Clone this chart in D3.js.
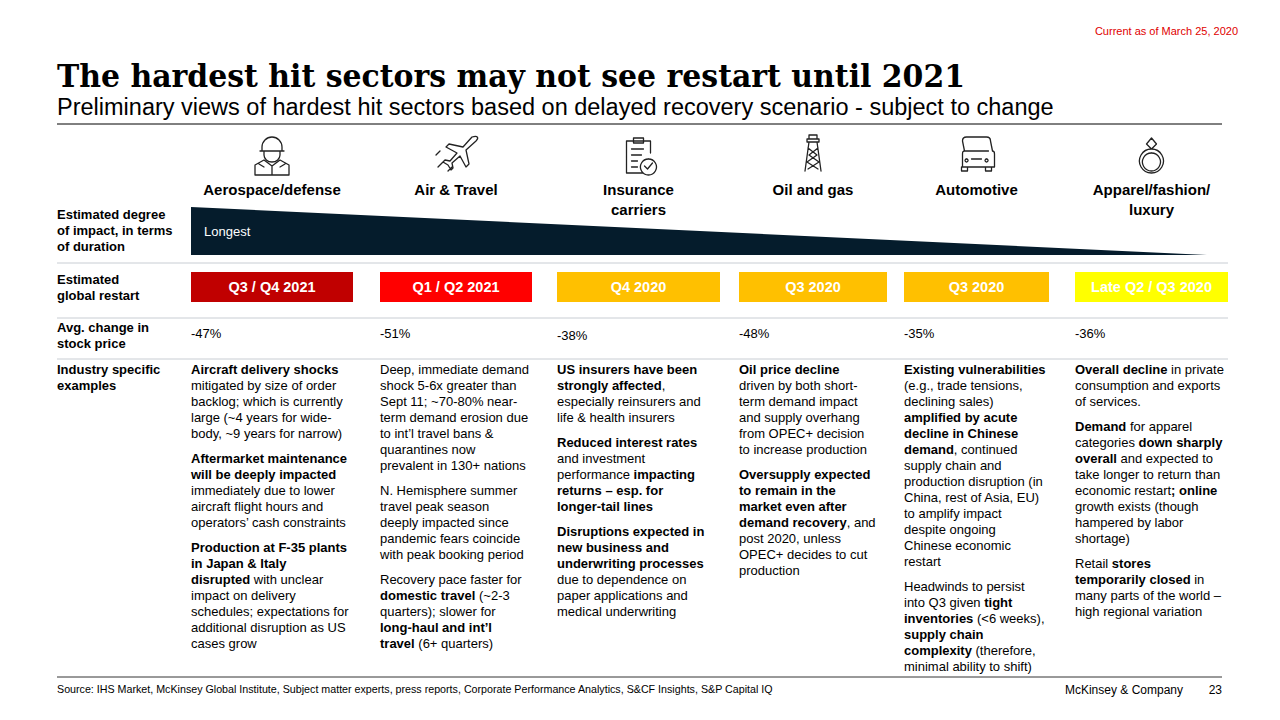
<!DOCTYPE html>
<html><head><meta charset="utf-8">
<script src="https://cdn.jsdelivr.net/npm/d3@7"></script>
<style>body{margin:0;background:#fff}text{font-family:Arial,"Liberation Sans",sans-serif}</style>
</head><body><svg id="c" width="1280" height="720"></svg>
<script>
'use strict'

const sectors = ['Aerospace/defense', 'Air & Travel', 'Insurance\ncarriers', 'Oil and gas', 'Automotive', 'Apparel/fashion/\nluxury']
const restart = ['Q3 / Q4 2021', 'Q1 / Q2 2021', 'Q4 2020', 'Q3 2020', 'Q3 2020', 'Late Q2 / Q3 2020']
const restartColor = ['#c00000', '#ff0000', '#ffc000', '#ffc000', '#ffc000', '#ffff00']
const stockChange = [-47, -51, -38, -48, -35, -36]
const impactRank = [6, 5, 4, 3, 2, 1]
const examples = [
  [['**Aircraft delivery shocks**', 'mitigated by size of order', 'backlog; which is currently', 'large (~4 years for wide-', 'body, ~9 years for narrow)'],
   ['**Aftermarket maintenance**', '**will be deeply impacted**', 'immediately due to lower', 'aircraft flight hours and', 'operators’ cash constraints'],
   ['**Production at F-35 plants**', '**in Japan & Italy**', '**disrupted** with unclear', 'impact on delivery', 'schedules; expectations for', 'additional disruption as US', 'cases grow']],
  [['Deep, immediate demand', 'shock 5-6x greater than', 'Sept 11; ~70-80% near-', 'term demand erosion due', 'to int’l travel bans &', 'quarantines now', 'prevalent in 130+ nations'],
   ['N. Hemisphere summer', 'travel peak season', 'deeply impacted since', 'pandemic fears coincide', 'with peak booking period'],
   ['Recovery pace faster for', '**domestic travel** (~2-3', 'quarters); slower for', '**long-haul and int’l**', '**travel** (6+ quarters)']],
  [['**US insurers have been**', '**strongly affected**,', 'especially reinsurers and', 'life & health insurers'],
   ['**Reduced interest rates**', 'and investment', 'performance **impacting**', '**returns – esp. for**', '**longer-tail lines**'],
   ['**Disruptions expected in**', '**new business and**', '**underwriting processes**', 'due to dependence on', 'paper applications and', 'medical underwriting']],
  [['**Oil price decline**', 'driven by both short-', 'term demand impact', 'and supply overhang', 'from OPEC+ decision', 'to increase production'],
   ['**Oversupply expected**', '**to remain in the**', '**market even after**', '**demand recovery**, and', 'post 2020, unless', 'OPEC+ decides to cut', 'production']],
  [['**Existing vulnerabilities**', '(e.g., trade tensions,', 'declining sales)', '**amplified by acute**', '**decline in Chinese**', '**demand**, continued', 'supply chain and', 'production disruption (in', 'China, rest of Asia, EU)', 'to amplify impact', 'despite ongoing', 'Chinese economic', 'restart'],
   ['Headwinds to persist', 'into Q3 given **tight**', '**inventories** (<6 weeks),', '**supply chain**', '**complexity** (therefore,', 'minimal ability to shift)']],
  [['**Overall decline** in private', 'consumption and exports', 'of services.'],
   ['**Demand** for apparel', 'categories **down sharply**', '**overall** and expected to', 'take longer to return than', 'economic restart**; online**', 'growth exists (though', 'hampered by labor', 'shortage)'],
   ['Retail **stores**', '**temporarily closed** in', 'many parts of the world –', 'high regional variation']]
]
const rowLabels = [
  { y: 219, lines: ['Estimated degree', 'of impact, in terms', 'of duration'] },
  { y: 284, lines: ['Estimated', 'global restart'] },
  { y: 332, lines: ['Avg. change in', 'stock price'] },
  { y: 374, lines: ['Industry specific', 'examples'] }
]

const colX = [191, 380, 557, 739, 904, 1075]
const colW = [162, 152, 163, 148, 145, 153]
const svg = d3.select('#c')
const navy = '#051c2c'

svg.append('text').attr('x', 1238).attr('y', 35).attr('text-anchor', 'end')
  .attr('font-size', 11).attr('fill', '#e00000').text('Current as of March 25, 2020')
svg.append('text').attr('x', 57).attr('y', 87).attr('font-size', 31).attr('font-weight', 'bold')
  .style('font-family', '"DejaVu Serif", Georgia, serif').attr('fill', '#000')
  .attr('textLength', 908).attr('lengthAdjust', 'spacingAndGlyphs')
  .text('The hardest hit sectors may not see restart until 2021')
svg.append('text').attr('x', 57).attr('y', 115).attr('font-size', 23.5).attr('fill', '#000')
  .text('Preliminary views of hardest hit sectors based on delayed recovery scenario - subject to change')
svg.append('line').attr('x1', 57).attr('x2', 1222).attr('y1', 124).attr('y2', 124).attr('stroke', '#000')

// row separators
;[263, 318, 359].forEach(y => {
  svg.append('line').attr('x1', 57).attr('x2', 1228).attr('y1', y).attr('y2', y)
    .attr('stroke', '#c8cdd3').attr('stroke-width', 1)
})
svg.append('line').attr('x1', 57).attr('x2', 1222).attr('y1', 677).attr('y2', 677).attr('stroke', '#000').attr('stroke-width', 0.8)

rowLabels.forEach(r => {
  svg.append('text').attr('font-size', 13).attr('font-weight', 'bold')
    .selectAll('tspan').data(r.lines).join('tspan')
    .attr('x', 57).attr('y', (d, i) => r.y + i * 16).text(d => d)
})

// wedge: thickness scaled by impact rank
const thick = d3.scaleLinear().domain([0, 6]).range([0, 48])
const wedgeX = d3.scaleLinear().domain([6, 0]).range([191, 1207])
const wedgeBottom = 255
svg.append('path')
  .attr('d', d3.line()([[wedgeX(6), wedgeBottom - thick(6)], [wedgeX(0), wedgeBottom - thick(0)], [wedgeX(6), wedgeBottom]]) + 'Z')
  .attr('fill', navy)
svg.append('text').attr('x', 204).attr('y', 236).attr('font-size', 13).attr('fill', '#fff').text('Longest')

// icons
const icon = svg.append('g').attr('fill', 'none').attr('stroke', '#222').attr('stroke-width', 1.3)
  .attr('stroke-linejoin', 'round').attr('stroke-linecap', 'round')
const iconPaths = [
  'M-10,-8 a10,10 0 0 1 20,0 v4 h-20 z M-12,-4 h24 M-8,-4 v4 a8,7 0 0 0 16,0 v-4 M-17,20 v-10 l9,-5 l8,6 l8,-6 l9,5 v10 z M0,11 v9 M-13,9 l5,3 M13,9 l-5,3',
  'M16,-18 l-9,10 l-14,-3 l-3,3 l11,6 l-7,8 l-5,-1 l-2,2 l5,3 l3,5 l2,-2 l-1,-5 l8,-7 l6,11 l3,-3 l-3,-14 l10,-9 c3,-3 2,-6 -4,-4 z M-16,-4 l-4,4 M-12,6 l-6,6 M-4,12 l-4,4',
  'M-12,-14 h24 v12 M4,18 h-16 v-32 M-5,-17 h10 v5 h-10 z M-7,-6 h12 M-7,0 h10 M-7,6 h6 M-7,12 h6 M10,4 a8,8 0 1 1 -0.1,0 M6,11 l3,3 l5,-6',
  'M-4,-18 h8 v4 h-8 z M-6,-14 h12 v3 h-12 z M-4,-11 l-4,29 M4,-11 l4,29 M-5,-5 l9,7 l-10,7 l11,7 M5,-5 l-9,7 l10,7 l-11,7',
  'M-14,-14 q0,-4 4,-4 h20 q4,0 4,4 l2,10 q2,0 2,3 v13 h-32 v-13 q0,-3 2,-3 z M-12,-4 h24 M-15,12 v4 h6 v-4 M15,12 v4 h-6 v-4 M-5,4 h10 M-10,4 a1.5,1.5 0 1 0 0.1,0 M10,4 a1.5,1.5 0 1 0 0.1,0',
  'M0,-8 a12,12 0 1 1 -0.1,0 M0,-4 a9,9 0 1 1 -0.1,0 M-5,-13 l5,-6 l5,6 l-5,5 z'
]
const iconY = [155, 155, 155, 153, 155, 157]
sectors.forEach((s, i) => {
  const cx = colX[i] + colW[i] / 2
  icon.append('path').attr('transform', `translate(${cx},${iconY[i]})`).attr('d', iconPaths[i])
  svg.append('text').attr('font-size', 15).attr('font-weight', 'bold').attr('text-anchor', 'middle')
    .selectAll('tspan').data(s.split('\n')).join('tspan')
    .attr('x', cx).attr('y', (d, j) => 195 + j * 20).text(d => d)
})

// restart boxes
restart.forEach((r, i) => {
  svg.append('rect').attr('x', colX[i]).attr('y', 272).attr('width', colW[i]).attr('height', 30).attr('fill', restartColor[i])
  svg.append('text').attr('x', colX[i] + colW[i] / 2).attr('y', 292).attr('text-anchor', 'middle')
    .attr('font-size', 14.5).attr('font-weight', 'bold').attr('fill', '#fff').text(r)
})

// stock price
stockChange.forEach((v, i) => {
  svg.append('text').attr('x', colX[i]).attr('y', i === 2 ? 340 : 338).attr('font-size', 13).text(v + '%')
})

// examples
const lineH = 16
const paraGap = 9
examples.forEach((paras, i) => {
  let y = 374
  const t = svg.append('text').attr('font-size', 13).attr('fill', '#000')
  paras.forEach(p => {
    p.forEach(line => {
      const parts = line.split('**')
      parts.forEach((seg, k) => {
        if (!seg) return
        const ts = t.append('tspan').text(seg).attr('font-weight', k % 2 ? 'bold' : 'normal')
        if (k === 0 || (k === 1 && parts[0] === '')) ts.attr('x', colX[i]).attr('y', y)
      })
      y += lineH
    })
    y += paraGap
  })
})

svg.append('text').attr('x', 57).attr('y', 693).attr('font-size', 10.7)
  .text('Source: IHS Market, McKinsey Global Institute, Subject matter experts, press reports, Corporate Performance Analytics, S&CF Insights, S&P Capital IQ')
svg.append('text').attr('x', 1183).attr('y', 694).attr('text-anchor', 'end').attr('font-size', 12).text('McKinsey & Company')
svg.append('text').attr('x', 1222).attr('y', 694).attr('text-anchor', 'end').attr('font-size', 12).text('23')
</script></body></html>
